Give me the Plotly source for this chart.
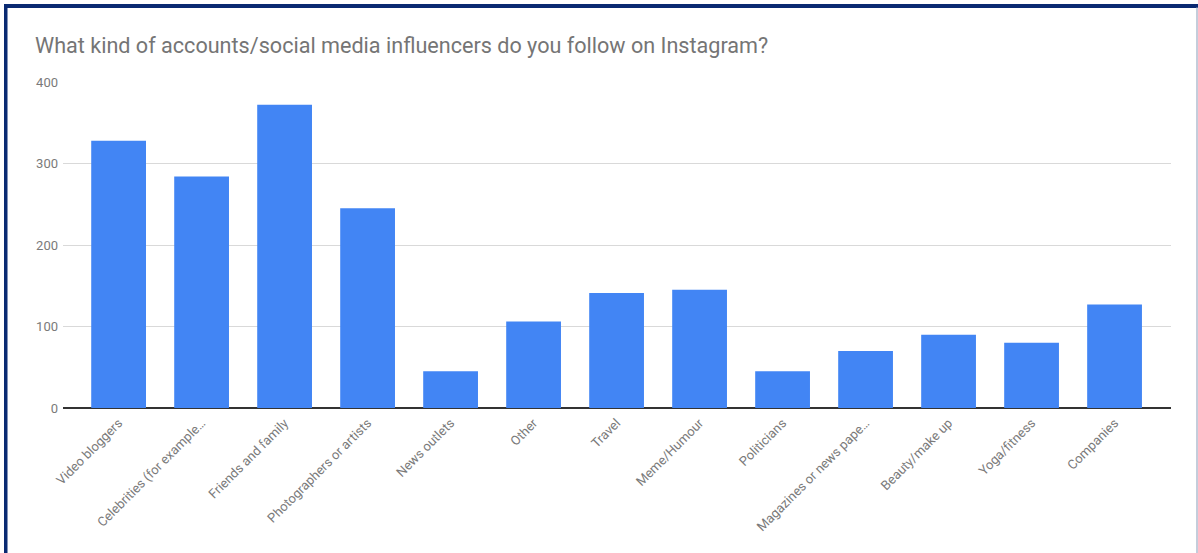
import plotly.graph_objects as go

categories = [
    "Video bloggers",
    "Celebrities (for example…",
    "Friends and family",
    "Photographers or artists",
    "News outlets",
    "Other",
    "Travel",
    "Meme/Humour",
    "Politicians",
    "Magazines or news pape…",
    "Beauty/make up",
    "Yoga/fitness",
    "Companies",
]
values = [328, 284, 372, 245, 45, 106, 141, 145, 45, 70, 90, 80, 127]
y_ticks = [0, 100, 200, 300, 400]

W, H = 1198, 553
L, R, T, B = 63, 27, 82, 145
pw = W - L - R
ph = H - T - B

def px_x(p):
    return (p - L) / pw

def px_y(p):
    return 1 - (p - T) / ph

fig = go.Figure()
fig.add_trace(go.Bar(
    x=categories,
    y=values,
    marker=dict(color="#4285F4", line=dict(width=0)),
    width=0.66,
    hovertemplate="%{x}: %{y}<extra></extra>",
))

shapes = [
    dict(type="rect", xref="paper", yref="paper",
         x0=px_x(4), x1=px_x(W + 5), y0=px_y(8), y1=px_y(4),
         fillcolor="#0a2a72", line=dict(width=0), layer="above"),
    dict(type="rect", xref="paper", yref="paper",
         x0=px_x(4), x1=px_x(7.5), y0=px_y(H + 5), y1=px_y(4),
         fillcolor="#0a2a72", line=dict(width=0), layer="above"),
    dict(type="rect", xref="paper", yref="paper",
         x0=px_x(1196.5), x1=px_x(1197.5), y0=px_y(H + 5), y1=px_y(7),
         fillcolor="#8a9bb8", line=dict(width=0), layer="above"),
]

fig.update_layout(
    width=W, height=H,
    margin=dict(l=L, r=R, t=T, b=B, autoexpand=False),
    paper_bgcolor="white",
    plot_bgcolor="white",
    showlegend=False,
    title=dict(
        text="What kind of accounts/social media influencers do you follow on Instagram?",
        x=35 / W, xanchor="left", xref="container",
        y=1 - 45 / H, yanchor="middle",
        font=dict(family="Roboto, Arial, sans-serif", size=21.6, color="#757575"),
    ),
    shapes=shapes,
)
fig.update_xaxes(
    type="category",
    range=[-0.67, 12.68],
    tickangle=-45,
    tickfont=dict(family="Roboto, Arial, sans-serif", size=13, color="#7a7a7a"),
    showgrid=False,
    showline=False,
    ticks="",
    ticklabelstandoff=4,
    zeroline=False,
    fixedrange=True,
)
fig.update_yaxes(
    range=[0, 400],
    tickvals=y_ticks,
    ticktext=[str(v) for v in y_ticks],
    tickfont=dict(family="Roboto, Arial, sans-serif", size=13, color="#7a7a7a"),
    showgrid=True,
    gridcolor="#d9d9d9",
    gridwidth=1,
    zeroline=True,
    zerolinecolor="#333333",
    zerolinewidth=1.5,
    showline=False,
    ticks="",
    ticklabelstandoff=4,
    fixedrange=True,
)

fig.write_html(
    "out.html",
    config={"displayModeBar": False},
    post_script="document.body.style.margin='0';document.body.style.overflow='hidden';",
)
